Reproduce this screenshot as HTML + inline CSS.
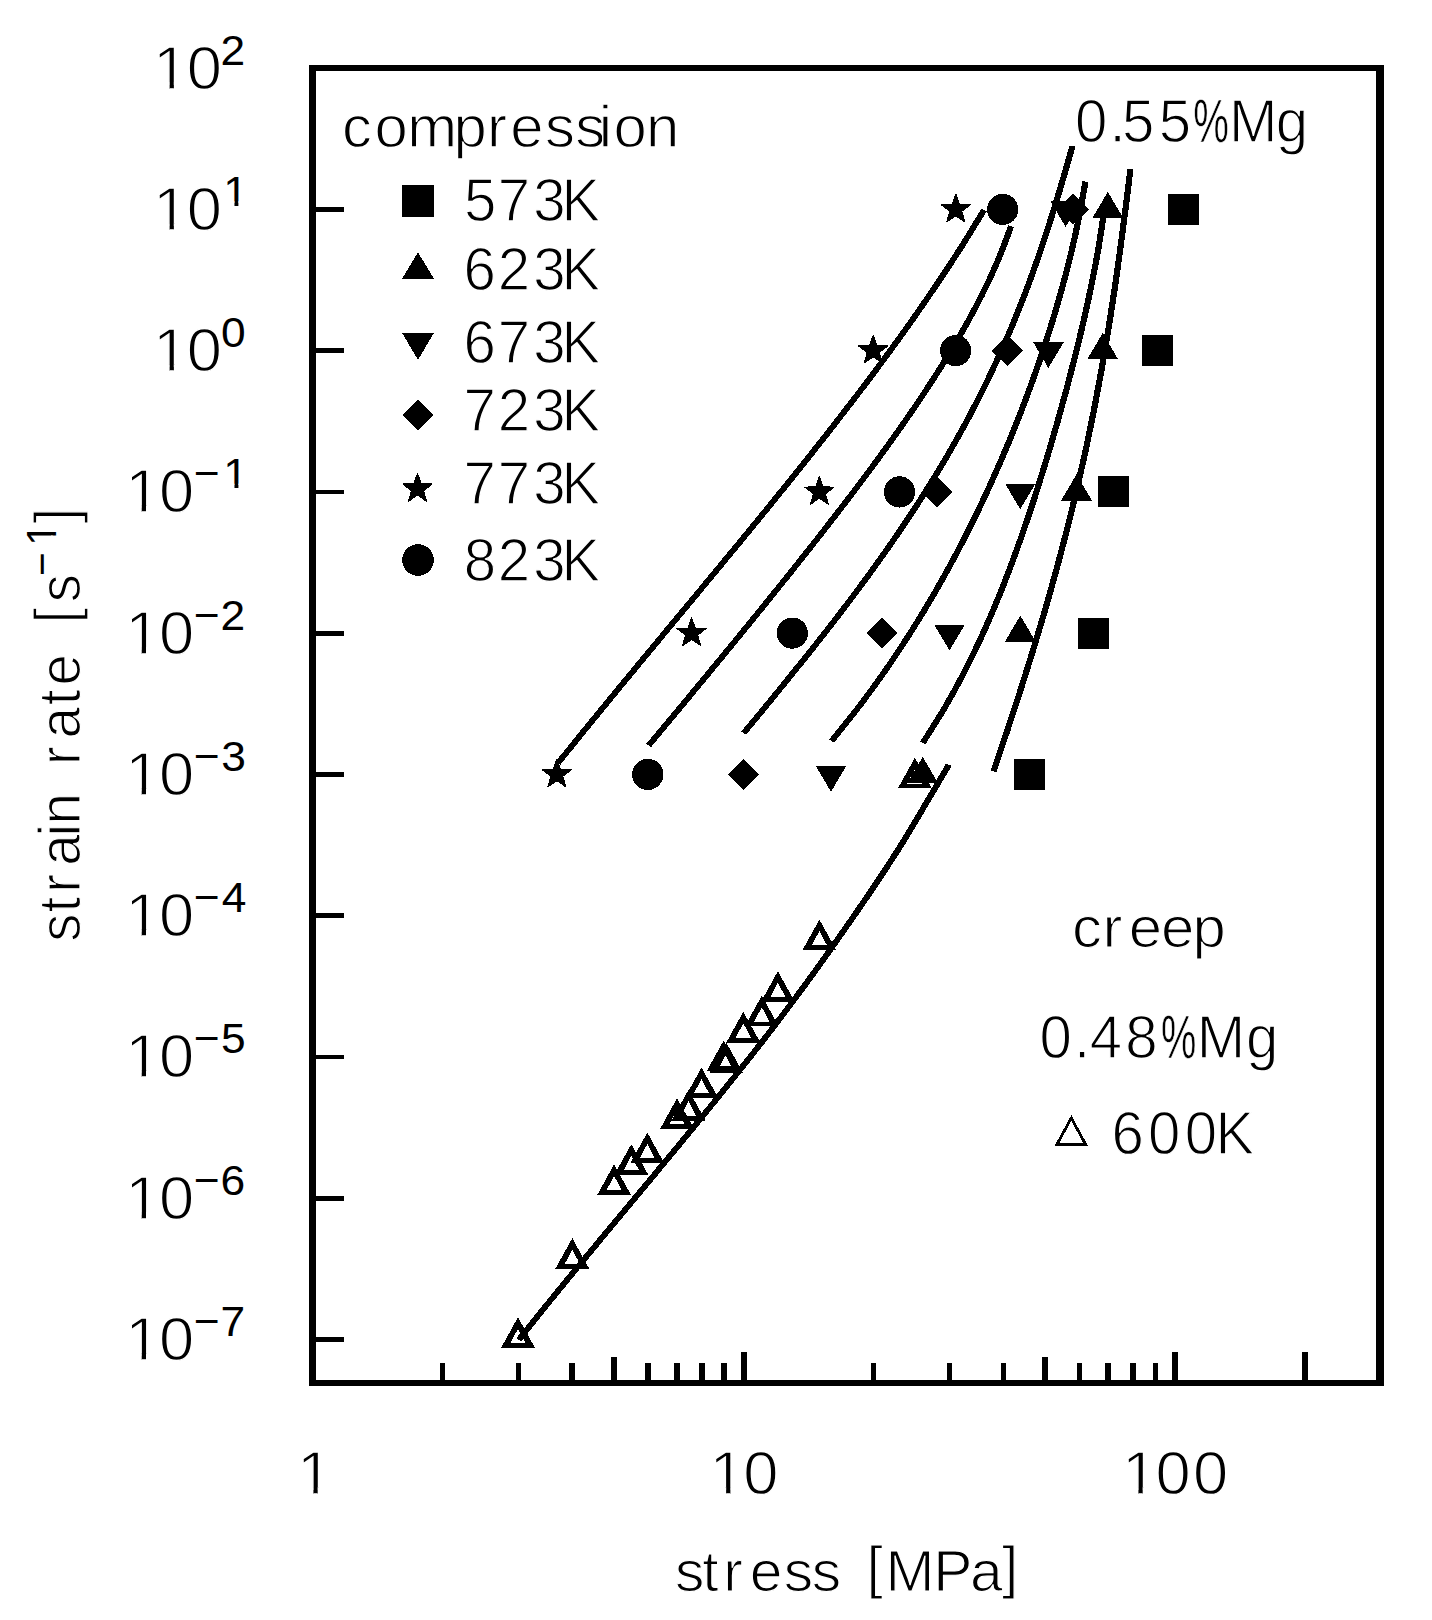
<!DOCTYPE html>
<html lang="en"><head><meta charset="utf-8"><title>strain rate vs stress</title>
<style>
html,body{margin:0;padding:0;background:#fff}
body{width:1432px;height:1620px;overflow:hidden}
svg{display:block;shape-rendering:crispEdges}
text{font-family:"Liberation Sans",sans-serif;font-size:56.5px;fill:#000;stroke:#fff;stroke-width:1.2px}
.ln{fill:none;stroke:#000;stroke-width:5.4;stroke-linecap:butt;stroke-linejoin:round}
.st{stroke:#000;stroke-width:1.2;stroke-linejoin:round}
.ot{fill:#000;fill-rule:evenodd;stroke:none}
</style></head><body>
<svg width="1432" height="1620" viewBox="0 0 1432 1620">
<rect width="1432" height="1620" fill="#fff"/>
<g fill="#000">
<rect x="308.9" y="65.2" width="7.1" height="1320.6"/>
<rect x="1376.1" y="65.2" width="7.8" height="1320.6"/>
<rect x="308.9" y="65.2" width="1075.0" height="5.7"/>
<rect x="308.9" y="1379.9" width="1075.0" height="5.9"/>
<rect x="314" y="207.0" width="30" height="4.8"/>
<rect x="314" y="348.2" width="30" height="4.8"/>
<rect x="314" y="489.5" width="30" height="4.8"/>
<rect x="314" y="630.8" width="30" height="4.8"/>
<rect x="314" y="772.0" width="30" height="4.8"/>
<rect x="314" y="913.2" width="30" height="4.8"/>
<rect x="314" y="1054.5" width="30" height="4.8"/>
<rect x="314" y="1195.8" width="30" height="4.8"/>
<rect x="314" y="1337.0" width="30" height="4.8"/>
<rect x="439.6" y="1363" width="5.6" height="19"/>
<rect x="515.5" y="1363" width="5.6" height="19"/>
<rect x="569.4" y="1363" width="5.6" height="19"/>
<rect x="611.2" y="1357" width="5.6" height="25"/>
<rect x="645.3" y="1363" width="5.6" height="19"/>
<rect x="674.2" y="1363" width="5.6" height="19"/>
<rect x="699.2" y="1363" width="5.6" height="19"/>
<rect x="721.3" y="1363" width="5.6" height="19"/>
<rect x="741.0" y="1352" width="5.6" height="30"/>
<rect x="870.8" y="1363" width="5.6" height="19"/>
<rect x="946.7" y="1363" width="5.6" height="19"/>
<rect x="1000.6" y="1363" width="5.6" height="19"/>
<rect x="1042.4" y="1357" width="5.6" height="25"/>
<rect x="1076.5" y="1363" width="5.6" height="19"/>
<rect x="1105.4" y="1363" width="5.6" height="19"/>
<rect x="1130.4" y="1363" width="5.6" height="19"/>
<rect x="1152.5" y="1363" width="5.6" height="19"/>
<rect x="1172.2" y="1352" width="5.6" height="30"/>
<rect x="1302.0" y="1352" width="5.6" height="30"/>
</g>
<g class="ln" transform="scale(1.150 1)">
<path d="M855.68 210.00 C852.39 216.14 842.76 234.58 835.98 246.87 C829.20 259.16 822.19 271.44 815.00 283.73 C807.82 296.02 800.43 308.31 792.89 320.60 C785.35 332.89 777.62 345.18 769.77 357.47 C761.92 369.76 753.90 382.04 745.77 394.33 C737.65 406.62 729.38 418.91 721.03 431.20 C712.68 443.49 704.20 455.78 695.67 468.07 C687.13 480.36 678.49 492.64 669.81 504.93 C661.13 517.22 652.37 529.51 643.58 541.80 C634.80 554.09 625.96 566.38 617.11 578.67 C608.27 590.96 599.38 603.24 590.52 615.53 C581.65 627.82 572.76 640.11 563.91 652.40 C555.06 664.69 546.22 676.98 537.42 689.27 C528.63 701.56 519.86 713.84 511.16 726.13 C502.47 738.42 489.56 756.86 485.24 763.00"/>
<path d="M879.22 226.20 C877.30 231.97 871.93 249.28 867.66 260.82 C863.40 272.36 858.67 283.90 853.63 295.44 C848.60 306.98 843.16 318.52 837.47 330.06 C831.79 341.60 825.74 353.14 819.50 364.68 C813.25 376.22 806.70 387.76 799.99 399.30 C793.27 410.84 786.30 422.38 779.20 433.92 C772.10 445.46 764.79 457.00 757.37 468.54 C749.95 480.08 742.37 491.62 734.70 503.16 C727.04 514.70 719.23 526.24 711.37 537.78 C703.51 549.32 695.54 560.86 687.53 572.40 C679.52 583.94 671.42 595.48 663.30 607.02 C655.17 618.56 646.98 630.10 638.77 641.64 C630.56 653.18 622.30 664.72 614.02 676.26 C605.73 687.80 597.42 699.34 589.08 710.88 C580.74 722.42 568.15 739.73 563.97 745.50"/>
<path d="M932.67 146.00 C931.03 152.52 926.20 172.10 922.81 185.15 C919.42 198.20 915.99 211.24 912.34 224.29 C908.70 237.34 904.94 250.39 900.93 263.44 C896.92 276.49 892.75 289.54 888.30 302.59 C883.84 315.64 879.18 328.68 874.22 341.73 C869.26 354.78 864.05 367.83 858.54 380.88 C853.03 393.93 847.24 406.98 841.15 420.03 C835.06 433.08 828.67 446.12 822.00 459.17 C815.32 472.22 808.34 485.27 801.09 498.32 C793.85 511.37 786.30 524.42 778.51 537.47 C770.72 550.52 762.64 563.56 754.36 576.61 C746.08 589.66 737.54 602.71 728.84 615.76 C720.14 628.81 711.20 641.86 702.17 654.91 C693.14 667.96 683.91 681.00 674.65 694.05 C665.40 707.10 651.31 726.68 646.64 733.20"/>
<path d="M943.86 181.50 C942.89 187.72 940.20 206.37 938.01 218.81 C935.83 231.24 933.40 243.68 930.77 256.11 C928.15 268.55 925.29 280.98 922.26 293.42 C919.23 305.86 916.00 318.29 912.59 330.73 C909.18 343.16 905.58 355.60 901.81 368.03 C898.04 380.47 894.09 392.90 889.96 405.34 C885.83 417.78 881.52 430.21 877.02 442.65 C872.53 455.08 867.86 467.52 862.98 479.95 C858.10 492.39 853.03 504.82 847.74 517.26 C842.45 529.70 836.96 542.13 831.21 554.57 C825.46 567.00 819.50 579.44 813.25 591.87 C806.99 604.31 800.50 616.74 793.67 629.18 C786.85 641.62 779.76 654.05 772.29 666.49 C764.82 678.92 757.05 691.36 748.85 703.79 C740.65 716.23 727.38 734.88 723.08 741.10"/>
<path d="M960.01 212.00 C959.22 217.90 957.04 235.60 955.29 247.39 C953.53 259.19 951.56 270.99 949.49 282.79 C947.41 294.58 945.16 306.38 942.82 318.18 C940.48 329.98 938.00 341.78 935.44 353.57 C932.88 365.37 930.22 377.17 927.47 388.97 C924.73 400.76 921.89 412.56 918.97 424.36 C916.04 436.16 913.04 447.96 909.93 459.75 C906.83 471.55 903.64 483.35 900.33 495.15 C897.01 506.94 893.61 518.74 890.05 530.54 C886.49 542.34 882.82 554.14 878.95 565.93 C875.08 577.73 871.09 589.53 866.84 601.33 C862.59 613.12 858.18 624.92 853.46 636.72 C848.74 648.52 843.81 660.32 838.51 672.11 C833.20 683.91 827.64 695.71 821.63 707.51 C815.61 719.30 805.62 737.00 802.42 742.90"/>
<path d="M982.96 169.20 C982.24 175.89 980.13 195.96 978.66 209.34 C977.18 222.72 975.68 236.10 974.10 249.48 C972.51 262.86 970.89 276.24 969.17 289.62 C967.44 303.00 965.66 316.38 963.77 329.76 C961.88 343.14 959.91 356.52 957.83 369.90 C955.75 383.28 953.57 396.66 951.28 410.04 C948.99 423.42 946.60 436.80 944.09 450.18 C941.58 463.56 938.96 476.94 936.22 490.32 C933.49 503.70 930.64 517.08 927.68 530.46 C924.71 543.84 921.64 557.22 918.46 570.60 C915.28 583.98 911.99 597.36 908.60 610.74 C905.21 624.12 901.72 637.50 898.14 650.88 C894.57 664.26 890.89 677.64 887.16 691.02 C883.42 704.40 879.59 717.78 875.72 731.16 C871.84 744.54 865.89 764.61 863.92 771.30"/>
<path d="M825.11 764.70 C821.83 771.09 812.04 790.26 805.45 803.03 C798.86 815.81 792.47 828.59 785.57 841.37 C778.66 854.14 771.38 866.92 764.01 879.70 C756.63 892.48 749.00 905.26 741.32 918.03 C733.64 930.81 725.87 943.59 717.95 956.37 C710.03 969.14 702.01 981.92 693.78 994.70 C685.56 1007.48 677.14 1020.26 668.59 1033.03 C660.04 1045.81 651.30 1058.59 642.47 1071.37 C633.64 1084.14 624.66 1096.92 615.62 1109.70 C606.59 1122.48 597.43 1135.26 588.26 1148.03 C579.09 1160.81 569.84 1173.59 560.60 1186.37 C551.37 1199.14 542.08 1211.92 532.85 1224.70 C523.62 1237.48 514.38 1250.26 505.22 1263.03 C496.07 1275.81 486.93 1288.59 477.92 1301.37 C468.91 1314.14 455.62 1333.31 451.16 1339.70"/>
</g>
<g fill="#000">
<path class="st" d="M955.8 194.2L959.4 204.4L970.3 204.7L961.7 211.3L964.7 221.7L955.8 215.6L946.9 221.7L949.9 211.3L941.3 204.7L952.2 204.4Z"/>
<circle cx="1002.7" cy="209.4" r="15.6"/>
<path d="M1065.6 226.8L1080.8 201.0L1050.3 201.0Z"/>
<path d="M1057.2 209.4L1073.0 193.9L1088.8 209.4L1073.0 224.9Z"/>
<path d="M1107.8 191.8L1123.3 218.2L1092.3 218.2Z"/>
<rect x="1167.8" y="193.9" width="31.0" height="31.0"/>
<path class="st" d="M873.2 335.4L876.8 345.6L887.7 346.0L879.1 352.6L882.1 362.9L873.2 356.8L864.3 362.9L867.3 352.6L858.7 346.0L869.6 345.6Z"/>
<circle cx="955.6" cy="350.6" r="15.6"/>
<path d="M991.5 350.6L1007.3 335.1L1023.1 350.6L1007.3 366.1Z"/>
<path d="M1048.4 368.0L1063.7 342.2L1033.2 342.2Z"/>
<path d="M1102.7 333.0L1118.2 359.4L1087.2 359.4Z"/>
<rect x="1141.5" y="335.1" width="31.0" height="31.0"/>
<path class="st" d="M819.4 476.7L823.0 486.9L833.9 487.2L825.3 493.8L828.3 504.2L819.4 498.1L810.5 504.2L813.5 493.8L804.9 487.2L815.8 486.9Z"/>
<circle cx="899.5" cy="491.9" r="15.6"/>
<path d="M921.2 491.9L937.0 476.4L952.8 491.9L937.0 507.4Z"/>
<path d="M1020.2 509.3L1035.5 483.5L1005.0 483.5Z"/>
<path d="M1076.5 474.3L1092.0 500.7L1061.0 500.7Z"/>
<rect x="1097.9" y="476.4" width="31.0" height="31.0"/>
<path class="st" d="M691.6 617.9L695.2 628.1L706.1 628.5L697.5 635.1L700.5 645.4L691.6 639.4L682.7 645.4L685.7 635.1L677.1 628.5L688.0 628.1Z"/>
<circle cx="792.3" cy="633.1" r="15.6"/>
<path d="M866.2 633.1L882.0 617.6L897.8 633.1L882.0 648.6Z"/>
<path d="M949.5 650.5L964.8 624.8L934.2 624.8Z"/>
<path d="M1020.3 615.5L1035.8 641.9L1004.8 641.9Z"/>
<rect x="1078.2" y="617.6" width="31.0" height="31.0"/>
<path class="st" d="M556.9 759.2L560.5 769.4L571.4 769.7L562.8 776.3L565.8 786.7L556.9 780.6L548.0 786.7L551.0 776.3L542.4 769.7L553.3 769.4Z"/>
<circle cx="647.8" cy="774.4" r="15.6"/>
<path d="M727.7 774.4L743.5 758.9L759.3 774.4L743.5 789.9Z"/>
<path d="M831.0 791.8L846.2 766.0L815.8 766.0Z"/>
<path d="M922.7 756.8L938.2 783.2L907.2 783.2Z"/>
<rect x="1014.0" y="758.9" width="31.0" height="31.0"/>
</g>
<g class="ot">
<path d="M914.9 757.6L931.9 788.3L897.9 788.3ZM914.9 769.1L907.3 783.5L922.5 783.5Z"/>
<path d="M819.4 919.5L836.4 950.2L802.4 950.2ZM819.4 931.0L811.8 945.4L827.0 945.4Z"/>
<path d="M777.9 971.2L794.9 1001.9L760.9 1001.9ZM777.9 982.7L770.3 997.1L785.5 997.1Z"/>
<path d="M761.8 995.7L778.8 1026.4L744.8 1026.4ZM761.8 1007.2L754.2 1021.6L769.4 1021.6Z"/>
<path d="M743.3 1011.8L760.3 1042.5L726.3 1042.5ZM743.3 1023.3L735.7 1037.7L750.9 1037.7Z"/>
<path d="M723.7 1040.4L740.7 1071.1L706.7 1071.1ZM723.7 1051.9L716.1 1066.3L731.3 1066.3Z"/>
<path d="M726.3 1042.6L743.3 1073.3L709.3 1073.3ZM726.3 1054.1L718.7 1068.5L733.9 1068.5Z"/>
<path d="M701.5 1067.5L718.5 1098.2L684.5 1098.2ZM701.5 1079.0L693.9 1093.4L709.1 1093.4Z"/>
<path d="M688.5 1089.8L705.5 1120.5L671.5 1120.5ZM688.5 1101.3L680.9 1115.7L696.1 1115.7Z"/>
<path d="M677.1 1098.2L694.1 1128.9L660.1 1128.9ZM677.1 1109.7L669.5 1124.1L684.7 1124.1Z"/>
<path d="M647.3 1132.5L664.3 1163.2L630.3 1163.2ZM647.3 1144.0L639.7 1158.4L654.9 1158.4Z"/>
<path d="M631.3 1144.2L648.3 1174.9L614.3 1174.9ZM631.3 1155.7L623.7 1170.1L638.9 1170.1Z"/>
<path d="M614.1 1164.4L631.1 1195.1L597.1 1195.1ZM614.1 1175.9L606.5 1190.3L621.7 1190.3Z"/>
<path d="M572.3 1238.1L589.3 1268.8L555.3 1268.8ZM572.3 1249.6L564.7 1264.0L579.9 1264.0Z"/>
<path d="M518.0 1317.2L535.0 1347.9L501.0 1347.9ZM518.0 1328.7L510.4 1343.1L525.6 1343.1Z"/>
</g>
<g fill="#000">
<rect x="402.0" y="184.5" width="32.0" height="32.0"/>
<path d="M418.0 252.4L434.0 278.8L402.0 278.8Z"/>
<path d="M418.0 359.9L434.0 332.8L402.0 332.8Z"/>
<path d="M402.0 415.0L418.0 399.8L434.0 415.0L418.0 430.2Z"/>
<path class="st" d="M417.5 473.6L421.1 483.8L432.0 484.1L423.4 490.7L426.4 501.1L417.5 495.0L408.6 501.1L411.6 490.7L403.0 484.1L413.9 483.8Z"/>
<circle cx="418.0" cy="560.0" r="15.8"/>
</g>
<path d="M1071.3 1118L1085.5 1144.1L1057.1 1144.1Z" fill="none" stroke="#000" stroke-width="2.8"/>
<defs>
<clipPath id="k1"><path clip-rule="evenodd" d="M-60 -120H900V60H-60ZM-3.73 -6.12H8.77V2.00H-3.73ZM12.57 -6.12H24.63V2.00H12.57Z"/></clipPath>
<clipPath id="k2"><path clip-rule="evenodd" d="M-60 -120H900V60H-60ZM-3.73 -6.12H8.77V2.00H-3.73ZM12.57 -6.12H24.63V2.00H12.57ZM57.74 -26.38H66.68V-20.12H57.74ZM70.18 -26.38H78.82V-20.12H70.18Z"/></clipPath>
<clipPath id="k3"><path clip-rule="evenodd" d="M-60 -120H900V60H-60ZM-3.73 -6.12H8.77V2.00H-3.73ZM12.57 -6.12H24.63V2.00H12.57ZM82.65 -26.38H91.60V-20.12H82.65ZM95.10 -26.38H103.73V-20.12H95.10Z"/></clipPath>
<clipPath id="k4"><path clip-rule="evenodd" d="M-60 -120H900V60H-60ZM394.79 -27.81H403.90V-21.48H394.79ZM407.49 -27.81H416.29V-21.48H407.49Z"/></clipPath>
</defs>
<text transform="translate(159.8 88.7) scale(1.120 1.085)" dy="0 0 -22.12" clip-path="url(#k1)" x="-6.0 24.1 54.3">10<tspan font-size="39.6" stroke-width="0.0">2</tspan></text>
<text transform="translate(159.8 229.9) scale(1.120 1.085)" dy="0 0 -22.12" clip-path="url(#k2)" x="-6.0 24.1 56.7">10<tspan font-size="39.6" stroke-width="0.0">1</tspan></text>
<text transform="translate(159.8 371.1) scale(1.120 1.085)" dy="0 0 -22.12" clip-path="url(#k1)" x="-6.0 24.1 54.7">10<tspan font-size="39.6" stroke-width="0.0">0</tspan></text>
<text transform="translate(131.9 512.4) scale(1.120 1.085)" dy="0 0 -22.12 0" clip-path="url(#k3)" x="-6.0 24.1 55.3 81.6">10<tspan font-size="39.6" stroke-width="0.0">−1</tspan></text>
<text transform="translate(131.9 653.6) scale(1.120 1.085)" dy="0 0 -22.12 0" clip-path="url(#k1)" x="-6.0 24.1 55.3 79.2">10<tspan font-size="39.6" stroke-width="0.0">−2</tspan></text>
<text transform="translate(131.9 794.9) scale(1.120 1.085)" dy="0 0 -22.12 0" clip-path="url(#k1)" x="-6.0 24.1 55.3 79.7">10<tspan font-size="39.6" stroke-width="0.0">−3</tspan></text>
<text transform="translate(131.9 936.1) scale(1.120 1.085)" dy="0 0 -22.12 0" clip-path="url(#k1)" x="-6.0 24.1 55.3 80.3">10<tspan font-size="39.6" stroke-width="0.0">−4</tspan></text>
<text transform="translate(131.9 1077.4) scale(1.120 1.085)" dy="0 0 -22.12 0" clip-path="url(#k1)" x="-6.0 24.1 55.3 79.6">10<tspan font-size="39.6" stroke-width="0.0">−5</tspan></text>
<text transform="translate(131.9 1218.7) scale(1.120 1.085)" dy="0 0 -22.12 0" clip-path="url(#k1)" x="-6.0 24.1 55.3 79.1">10<tspan font-size="39.6" stroke-width="0.0">−6</tspan></text>
<text transform="translate(131.9 1359.9) scale(1.120 1.085)" dy="0 0 -22.12 0" clip-path="url(#k1)" x="-6.0 24.1 55.3 79.1">10<tspan font-size="39.6" stroke-width="0.0">−7</tspan></text>
<text transform="translate(303.6 1493.8) scale(1.120 1.075)" clip-path="url(#k1)" x="-6.0">1</text>
<text transform="translate(716.3 1493.8) scale(1.120 1.075)" clip-path="url(#k1)" x="-6.0 24.1">10</text>
<text transform="translate(1128.6 1493.8) scale(1.120 1.075)" clip-path="url(#k1)" x="-6.0 24.1 57.4">100</text>
<text transform="translate(677.3 1590.8) scale(1.040 1.020)" dy="0 0 0 0 0 0 0 -3.8 3.8 0 0 -3.8" x="-2.2 24.0 44.1 69.7 102.4 129.2 165.5 181.9 200.1 246.1 281.5 312.3">stress [MPa]</text>
<text transform="translate(345.1 146.8) scale(1.060 1.050)" x="-3.0 27.8 58.7 102.2 133.8 155.9 188.7 217.2 239.4 253.2 283.8">compression</text>
<text transform="translate(467.0 221.2) scale(1.030 1.085)" x="-2.9 29.8 64.4 91.7">573K</text>
<text transform="translate(467.0 289.8) scale(1.030 1.085)" x="-3.5 29.9 64.4 91.7">623K</text>
<text transform="translate(467.0 362.8) scale(1.030 1.085)" x="-3.5 29.8 64.4 91.7">673K</text>
<text transform="translate(467.0 430.9) scale(1.030 1.085)" x="-3.5 29.9 64.4 91.7">723K</text>
<text transform="translate(467.0 503.8) scale(1.030 1.085)" x="-3.5 29.8 64.4 91.7">773K</text>
<text transform="translate(467.0 580.7) scale(1.030 1.085)" x="-3.1 29.9 64.4 91.7">823K</text>
<text transform="translate(1077.9 141.8) scale(1.030 1.085)" x="-2.8 30.8 42.9 78.6 112.1 146.7 192.0">0.55<tspan textLength="34.6" lengthAdjust="spacingAndGlyphs" stroke-width="0.6">%</tspan>Mg</text>
<text transform="translate(1075.1 946.9) scale(1.060 1.020)" x="-3.0 25.8 50.6 81.0 110.8">creep</text>
<text transform="translate(1042.5 1058.3) scale(1.030 1.070)" x="-2.8 30.6 45.8 80.4 115.1 149.8 197.7">0.48<tspan textLength="34.3" lengthAdjust="spacingAndGlyphs" stroke-width="0.6">%</tspan>Mg</text>
<text transform="translate(1115.1 1153.7) scale(1.030 1.070)" x="-3.5 31.9 67.7 97.6">600K</text>
<text transform="translate(79.9 939.5) rotate(-90) translate(0.0 0.0) scale(1.000 1.035)" dy="0 0 0 0 0 0 0 0 0 0 0 0 -3.8 3.8 -23.19 -0.29 19.68" clip-path="url(#k4)" x="-2.2 26.9 46.8 73.7 102.9 115.0 149.4 174.6 200.9 234.2 254.0 289.4 316.0 337.2 363.6 393.7 416.0">strain rate [s<tspan font-size="40.6" stroke-width="0.0">−1</tspan>]</text>
</svg></body></html>
